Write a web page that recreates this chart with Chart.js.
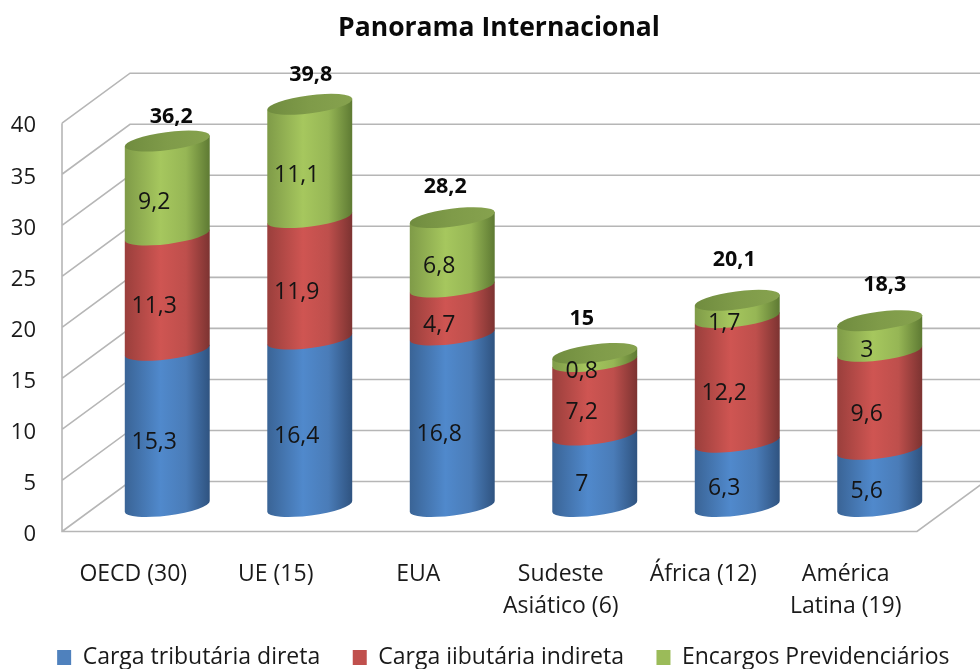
<!DOCTYPE html>
<html lang="pt">
<head>
<meta charset="utf-8">
<style>html,body{margin:0;padding:0;background:#fff}canvas{display:block}</style>
<script src="https://cdn.jsdelivr.net/npm/chart.js@4/dist/chart.umd.min.js"></script>
</head>
<body>
<canvas id="c" width="980" height="669"></canvas>
<script>
const categories = [['OECD (30)'], ['UE (15)'], ['EUA'], ['Sudeste', 'Asiático (6)'], ['África (12)'], ['América', 'Latina (19)']];
const seriesNames = ['Carga tributária direta', 'Carga iibutária indireta', 'Encargos Previdenciários'];
const direta = [15.3, 16.4, 16.8, 7, 6.3, 5.6];
const indireta = [11.3, 11.9, 4.7, 7.2, 12.2, 9.6];
const encargos = [9.2, 11.1, 6.8, 0.8, 1.7, 3];
const totals = ['36,2', '39,8', '28,2', '15', '20,1', '18,3'];
const segmentLabels = [
  ['15,3', '16,4', '16,8', '7', '6,3', '5,6'],
  ['11,3', '11,9', '4,7', '7,2', '12,2', '9,6'],
  ['9,2', '11,1', '6,8', '0,8', '1,7', '3']
];
const yTicks = [0, 5, 10, 15, 20, 25, 30, 35, 40];

const FONT = '"Open Sans", Lato, sans-serif';
const baseColors = ['#4F81BD', '#C0504D', '#9BBB59'];
const shades = [
  ['#3A6496', '#5089CC', '#4A7CB8', '#2F5380'],
  ['#9A3F3C', '#CF5552', '#BE4F4C', '#7C3331'],
  ['#7F9B48', '#A6C75E', '#96B655', '#5E7A33']
];
const DEPTH_X = 68, DEPTH_Y = 50;
const BAR_DX = 34, BAR_DY = 25;
const ROT = -7.4 * Math.PI / 180;
const totalNudge = [[4, -45], [1, -50], [-7, -57], [-13, -60], [-3, -66], [5, -60]];

const cylinder3d = {
  id: 'cylinder3d',
  afterLayout(chart) {
    // let the tick labels use the room below and left of their boxes
    chart.scales.x.bottom += 40;
    chart.scales.y.left = 0;
    chart.titleBlock.left += 4;
    chart.titleBlock.right += 4;
    chart.legend.left += 8.3;
    chart.legend.right += 8.3;
  },
  beforeDraw(chart) {
    chart.scales.y.getLabelItems().forEach(item => { item.options.translation[1] += 3; });
  },
  beforeDatasetsDraw(chart) {
    const c = chart.ctx, y = chart.scales.y, a = chart.chartArea;
    c.save();
    c.strokeStyle = '#B6B6B6';
    c.lineWidth = 1.6;
    c.beginPath();
    c.moveTo(a.left, y.getPixelForValue(40));
    c.lineTo(a.left, y.getPixelForValue(0));
    c.lineTo(a.right, y.getPixelForValue(0));
    c.lineTo(a.right + DEPTH_X, y.getPixelForValue(0) - DEPTH_Y);
    yTicks.forEach(v => {
      const p = y.getPixelForValue(v);
      c.moveTo(a.left, p);
      c.lineTo(a.left + DEPTH_X, p - DEPTH_Y);
      c.lineTo(chart.width, p - DEPTH_Y);
    });
    c.stroke();
    c.restore();

    const n = categories.length;
    for (let i = 0; i < n; i++) {
      let topEl = null;
      for (let d = 0; d < 3; d++) {
        const el = chart.getDatasetMeta(d).data[i];
        topEl = el;
        drawSegment(c, el, d);
      }
      drawCap(c, topEl);
    }
    // value labels
    c.save();
    c.fillStyle = '#141414';
    c.textAlign = 'center';
    c.textBaseline = 'middle';
    for (let d = 0; d < 3; d++) {
      c.font = '23px ' + FONT;
      chart.getDatasetMeta(d).data.forEach((el, i) => {
        const mid = (el.y + el.base) / 2 - BAR_DY;
        c.fillText(segmentLabels[d][i], el.x + BAR_DX - 13, mid + 14);
      });
    }
    c.font = 'bold 21.5px ' + FONT;
    c.fillStyle = '#0A0A0A';
    chart.getDatasetMeta(2).data.forEach((el, i) => {
      const p = y.getPixelForValue(parseFloat(totals[i].replace(',', '.')));
      c.fillText(totals[i], el.x + BAR_DX + totalNudge[i][0], p + totalNudge[i][1]);
    });
    c.restore();
    return false;
  }
};

function drawSegment(c, el, d) {
  const cx = el.x + BAR_DX, a = el.width / 2 / Math.cos(ROT), b = 9;
  const yb = el.base - BAR_DY, yt = el.y - BAR_DY;
  const hw = el.width / 2, tilt = a * Math.sin(-ROT);
  const g = c.createLinearGradient(cx - hw, 0, cx + hw, 0);
  const s = shades[d];
  g.addColorStop(0, s[0]);
  g.addColorStop(0.42, s[1]);
  g.addColorStop(0.72, s[2]);
  g.addColorStop(1, s[3]);
  c.beginPath();
  c.ellipse(cx, yb, a, b, ROT, 0, Math.PI);
  c.lineTo(cx - hw, yt + tilt);
  c.lineTo(cx + hw, yt - tilt);
  c.closePath();
  c.fillStyle = g;
  c.fill();
}

function drawCap(c, el) {
  const cx = el.x + BAR_DX, a = el.width / 2 / Math.cos(ROT), b = 9;
  const yt = el.y - BAR_DY, hw = el.width / 2;
  const g = c.createLinearGradient(cx - hw, 0, cx + hw, 0);
  g.addColorStop(0, '#708C3F');
  g.addColorStop(0.5, '#7F9B49');
  g.addColorStop(1, '#86A24E');
  c.beginPath();
  c.ellipse(cx, yt, a, b, ROT, 0, Math.PI * 2);
  c.fillStyle = g;
  c.fill();
}

new Chart(document.getElementById('c'), {
  type: 'bar',
  data: {
    labels: categories,
    datasets: [direta, indireta, encargos].map((values, i) => ({
      label: seriesNames[i],
      data: values,
      backgroundColor: baseColors[i],
      borderWidth: 0,
      barPercentage: 0.596,
      categoryPercentage: 1
    }))
  },
  options: {
    responsive: false,
    animation: false,
    layout: { padding: { left: 10, right: 0, top: 13, bottom: -10 } },
    plugins: {
      tooltip: { enabled: false },
      title: {
        display: true,
        text: 'Panorama Internacional',
        color: '#0A0A0A',
        font: { family: FONT, size: 26.5, weight: 'bold', lineHeight: 1.2 },
        padding: { top: 0, bottom: 78.4 }
      },
      legend: {
        display: true,
        position: 'bottom',
        labels: {
          color: '#1A1A1A',
          boxWidth: 14,
          boxHeight: 15,
          padding: 32.5,
          font: { family: FONT, size: 23 }
        }
      }
    },
    scales: {
      x: {
        stacked: true,
        grid: { display: false },
        border: { display: false },
        ticks: { color: '#1A1A1A', font: { family: FONT, size: 23, lineHeight: 1.39 }, padding: 19, maxRotation: 0, autoSkip: false },
        afterFit(s) { s.height = 82; }
      },
      y: {
        position: 'left',
        stacked: true,
        min: 0, max: 40,
        afterBuildTicks(s) { s.ticks = yTicks.map(v => ({ value: v })); },
        grid: { display: false },
        border: { display: false },
        ticks: { color: '#1A1A1A', font: { family: FONT, size: 22 }, padding: 18 },
        afterFit(s) { s.width = 52; }
      },
      yRight: {
        position: 'right',
        display: true,
        min: 0, max: 40,
        grid: { display: false },
        border: { display: false },
        ticks: { display: false },
        afterFit(s) { s.width = 63; }
      }
    }
  },
  plugins: [cylinder3d]
});
</script>
</body>
</html>
